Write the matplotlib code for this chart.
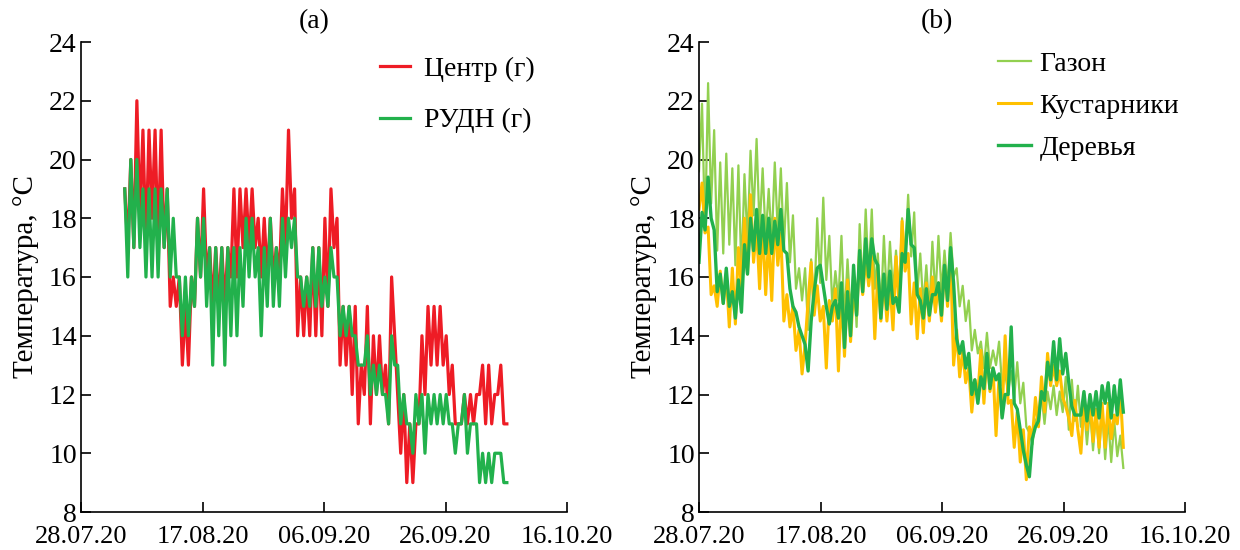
import matplotlib
matplotlib.use("Agg")
import matplotlib.pyplot as plt
import numpy as np

plt.rcParams['font.family'] = ['Liberation Serif', 'DejaVu Serif']

# x axis: days since 28.07.2020
date_ticks = [0, 20, 40, 60, 80]
date_labels = ["28.07.20", "17.08.20", "06.09.20", "26.09.20", "16.10.20"]
temp_ticks = [8, 10, 12, 14, 16, 18, 20, 22, 24]

# (a) half-day readings, 04.08 - 06.10
a_start, a_end = 7.2, 70.1
centr = [19, 17, 20, 17, 22, 18, 21, 17, 21, 18, 21, 17, 21, 17, 19, 15, 16, 15, 16, 13,
         15, 13, 16, 15, 18, 16, 19, 16, 17, 15, 17, 15, 17, 15, 17, 16, 19, 16, 19, 17,
         19, 17, 19, 17, 18, 16, 18, 16, 18, 16, 17, 16, 19, 17, 21, 18, 19, 14, 16, 14,
         16, 14, 17, 14, 17, 14, 18, 15, 19, 17, 18, 13, 15, 13, 15, 12, 15, 11, 13, 12,
         15, 11, 14, 12, 14, 12, 13, 11, 16, 14, 12, 10, 12, 9, 11, 9, 11, 11, 14, 12,
         15, 13, 15, 13, 15, 13, 14, 12, 13, 11, 11, 11, 12, 11, 12, 11, 12, 12, 13, 11,
         13, 11, 12, 12, 13, 11, 11]
rudn = [19, 16, 20, 17, 20, 17, 19, 16, 19, 16, 19, 16, 19, 17, 19, 16, 18, 16, 16, 14,
        16, 14, 16, 15, 18, 16, 18, 15, 17, 13, 17, 14, 17, 13, 17, 14, 17, 14, 17, 15,
        18, 16, 18, 16, 17, 14, 17, 15, 18, 15, 17, 15, 18, 16, 18, 17, 18, 16, 16, 15,
        16, 15, 17, 15, 17, 15, 16, 15, 17, 16, 16, 14, 15, 14, 15, 14, 14, 13, 13, 13,
        14, 12, 13, 12, 13, 12, 12, 11, 14, 13, 13, 11, 12, 11, 11, 10, 12, 11, 12, 10,
        12, 11, 12, 11, 12, 11, 12, 11, 11, 10, 11, 11, 12, 10, 11, 11, 11, 9, 10, 9,
        10, 9, 10, 10, 10, 9, 9]

# (b) half-day readings, 28.07 - 06.10
b_start, b_end = 0.0, 69.85
gazon = [19.6, 21.9, 17.5, 22.6, 18.5, 21.0, 16.9, 19.9, 16.8, 20.2,
         17.1, 19.7, 16.4, 19.8, 16.1, 19.5, 17.2, 20.3, 18.1, 20.7,
         17.6, 19.7, 17.3, 19.0, 17.2, 19.9, 17.5, 19.7, 17.0, 19.2,
         16.5, 18.1, 15.6, 16.3, 15.2, 16.3, 14.2, 16.6, 15.0, 18.0,
         15.8, 18.7, 15.9, 17.4, 15.0, 16.2, 15.2, 17.4, 14.5, 16.6,
         14.8, 16.3, 14.3, 17.8, 15.6, 18.3, 15.9, 18.3, 15.6, 16.8,
         14.8, 17.4, 15.2, 17.2, 15.5, 16.9, 15.3, 18.0, 16.6, 18.8,
         16.7, 18.2, 15.4, 16.8, 15.0, 16.4, 14.8, 17.2, 15.3, 17.4,
         15.5, 16.9, 15.6, 17.5, 16.0, 16.3, 15.0, 15.7, 14.5, 15.2,
         13.5, 14.2, 13.4, 13.8, 12.9, 14.1, 12.9, 13.5, 13.0, 13.8,
         12.3, 12.7, 12.1, 12.8, 11.9, 13.1, 11.7, 12.4, 10.9, 10.7,
         10.3, 11.1, 11.3, 12.0, 11.0, 12.1, 11.5, 12.3, 11.3, 12.1,
         11.4, 12.6, 10.8, 12.5, 11.1, 12.3, 10.9, 11.6, 10.3, 11.5,
         10.1, 11.4, 10.0, 11.5, 9.8, 11.2, 9.7, 11.1, 9.9, 10.6,
         9.5]
kust = [18.3, 19.2, 17.5, 17.7, 15.4, 15.7, 15.0, 16.2, 15.1, 16.1,
        14.3, 16.3, 14.4, 17.0, 15.6, 18.0, 16.1, 18.8, 16.5, 17.7,
        15.6, 17.8, 15.4, 17.4, 15.2, 18.0, 16.4, 17.5, 14.5, 15.4,
        14.3, 15.0, 13.5, 14.2, 12.7, 13.7, 15.2, 16.5, 14.7, 15.7,
        14.5, 15.0, 12.9, 15.2, 14.5, 15.6, 12.8, 15.5, 13.3, 15.9,
        13.8, 15.6, 14.7, 16.8, 15.4, 16.6, 15.7, 16.7, 13.9, 16.2,
        14.5, 15.9, 14.5, 15.8, 14.2, 16.7, 15.0, 17.9, 16.2, 16.8,
        14.4, 15.8, 13.9, 15.6, 14.1, 15.8, 14.5, 16.0, 14.8, 15.8,
        14.5, 16.4, 15.0, 16.7, 13.0, 14.2, 12.6, 13.5, 12.4, 12.9,
        11.4, 12.5, 12.0, 13.5, 11.7, 13.4, 12.1, 12.9, 10.6, 12.6,
        11.3, 14.0, 11.7, 11.8, 10.2, 11.4, 9.7, 10.8, 9.1, 10.9,
        10.5, 11.9, 10.9, 12.6, 11.4, 13.4, 12.3, 13.0, 12.3, 12.8,
        11.9, 11.6, 11.2, 10.6, 11.8, 10.8, 10.0, 11.7, 10.8, 11.9,
        10.4, 11.5, 10.2, 11.7, 10.2, 11.7, 10.5, 11.3, 11.0, 12.1,
        10.2]
derev = [16.5, 18.2, 17.6, 19.4, 18.0, 17.6, 15.5, 16.1, 15.1, 16.3,
         15.0, 15.5, 14.6, 15.9, 14.8, 17.1, 16.1, 18.0, 16.9, 18.3,
         16.8, 18.1, 16.8, 18.0, 16.8, 17.9, 17.1, 18.3, 16.9, 16.8,
         15.6, 15.0, 14.8, 14.3, 14.0, 13.7, 12.8, 14.5, 15.5, 16.3,
         16.4, 15.7, 15.0, 14.4, 15.0, 15.2, 14.6, 15.8, 13.6, 15.5,
         14.0, 16.4, 14.7, 16.9, 15.5, 17.3, 16.0, 17.3, 16.6, 16.4,
         14.6, 16.1, 14.9, 16.2, 15.1, 15.3, 14.8, 16.8, 16.5, 18.3,
         17.1, 17.0, 15.4, 15.2, 14.6, 15.6, 14.7, 15.4, 15.4, 15.8,
         14.7, 16.4, 15.2, 17.0, 15.8, 13.9, 13.4, 13.8, 12.9, 13.4,
         12.0, 12.5, 11.7, 12.6, 12.2, 13.4, 12.2, 12.9, 12.5, 12.7,
         11.2, 12.0, 12.0, 14.3, 11.7, 11.5, 10.8, 10.1, 9.6, 9.2,
         10.5, 10.9, 11.1, 12.1, 11.8, 13.1, 12.5, 13.8, 12.5, 13.9,
         12.7, 13.4, 12.4, 11.6, 11.3, 11.3, 11.3, 12.1, 11.1, 12.0,
         11.3, 12.1, 11.2, 12.3, 11.7, 12.4, 11.2, 12.3, 11.3, 12.5,
         11.4]

FS = 19


def style_axes(ax, title, title_x):
    ax.set_xlim(0, 80)
    ax.set_ylim(8, 24)
    ax.set_xticks(date_ticks)
    ax.set_xticklabels(date_labels)
    ax.set_yticks(temp_ticks)
    ax.spines['top'].set_visible(False)
    ax.spines['right'].set_visible(False)
    for s in ('left', 'bottom'):
        ax.spines[s].set_linewidth(1.2)
    ax.tick_params(direction='in', length=7, width=1.2, labelsize=FS)
    ax.tick_params(axis='x', pad=10)
    ax.tick_params(axis='y', pad=3, labelsize=20)
    ax.set_ylabel("Температура, °C", fontsize=21, labelpad=7)
    ax.set_title(title, fontsize=20, pad=10, x=title_x)


fig = plt.figure(figsize=(12.4, 5.5), dpi=100)
ax1 = fig.add_axes([81 / 1240, 38 / 550, 486 / 1240, 470 / 550])
ax2 = fig.add_axes([699 / 1240, 38 / 550, 486 / 1240, 470 / 550])

ta = np.linspace(a_start, a_end, len(centr))
ax1.plot(ta, centr, color='#ee1c25', lw=2.3, label="Центр (г)")
ax1.plot(ta, rudn, color='#22b14c', lw=2.3, label="РУДН (г)")
style_axes(ax1, "(a)", 0.48)
ax1.legend(loc='upper left', bbox_to_anchor=(0.615, 0.97), frameon=False,
           fontsize=20, borderpad=0, borderaxespad=0, handlelength=1.1,
           handletextpad=0.5, labelspacing=0.95)

tb = np.linspace(b_start, b_end, len(gazon))
ax2.plot(tb, gazon, color='#92d050', lw=1.6, label="Газон")
ax2.plot(tb, kust, color='#ffc000', lw=2.2, label="Кустарники")
ax2.plot(tb, derev, color='#22b14c', lw=2.4, label="Деревья")
style_axes(ax2, "(b)", 0.49)
ax2.legend(loc='upper left', bbox_to_anchor=(0.615, 0.98), frameon=False,
           fontsize=20, borderpad=0, borderaxespad=0, handlelength=1.2,
           handletextpad=0.3, labelspacing=0.6)

fig.savefig("out.png", dpi=100)
